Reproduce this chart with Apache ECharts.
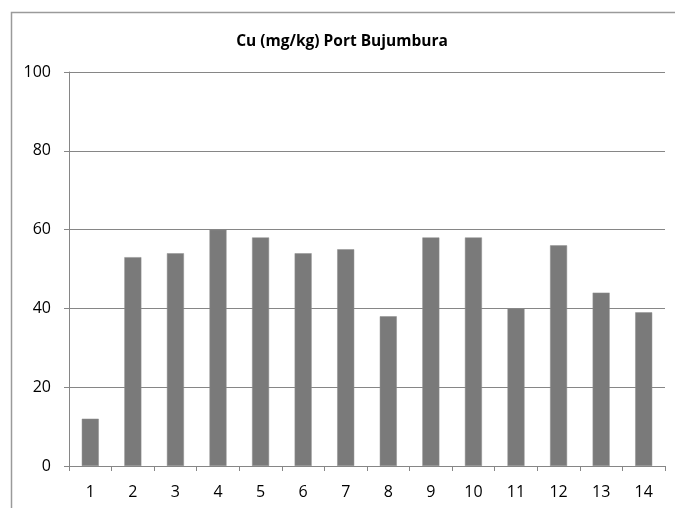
<!DOCTYPE html>
<html>
<head>
<meta charset="utf-8">
<script src="https://cdn.jsdelivr.net/npm/echarts@6/dist/echarts.min.js"></script>
<style>
  html, body { margin: 0; padding: 0; background: #fff; }
  #chart { width: 675px; height: 508px; }
</style>
</head>
<body>
<div id="chart"></div>
<script>
// Copper concentration per sample site, Port of Bujumbura
const titleText = 'Cu (mg/kg) Port Bujumbura';
const sites = ['1', '2', '3', '4', '5', '6', '7', '8', '9', '10', '11', '12', '13', '14'];
const cuValues = [12, 53, 54, 60, 58, 54, 55, 38, 58, 58, 40, 56, 44, 39];
const yTicks = { min: 0, max: 100, interval: 20 };

const labelFont = 'Open Sans, Liberation Sans, sans-serif';
const chart = echarts.init(document.getElementById('chart'), null, { renderer: 'canvas' });

chart.setOption({
  backgroundColor: '#ffffff',
  animation: false,
  graphic: [{
    type: 'rect',
    shape: { x: 11.5, y: 12.5, width: 700, height: 600 },
    style: { fill: 'none', stroke: '#9a9a9a', lineWidth: 1.5 },
    silent: true
  }],
  title: {
    text: titleText,
    left: 337,
    top: 29,
    textAlign: 'center',
    textStyle: { fontFamily: labelFont, fontWeight: 'bold', fontSize: 15.5, color: '#000' }
  },
  grid: { left: 69, right: 10, top: 72, bottom: 42, containLabel: false },
  xAxis: {
    type: 'category',
    data: sites,
    boundaryGap: true,
    axisLine: { lineStyle: { color: '#868686', width: 1 } },
    axisTick: { show: true, alignWithLabel: false, length: 5, lineStyle: { color: '#868686' } },
    axisLabel: { margin: 18, fontFamily: labelFont, fontSize: 16, color: '#000' }
  },
  yAxis: {
    type: 'value',
    min: yTicks.min,
    max: yTicks.max,
    interval: yTicks.interval,
    axisLine: { show: true, lineStyle: { color: '#868686', width: 1 } },
    axisTick: { show: true, length: 5, lineStyle: { color: '#868686' } },
    axisLabel: { margin: 18, fontFamily: labelFont, fontSize: 16, color: '#000' },
    splitLine: { show: true, lineStyle: { color: '#868686', width: 1 } }
  },
  series: [{
    type: 'bar',
    data: cuValues,
    barWidth: 17,
    itemStyle: { color: '#7a7a7a', borderColor: '#8f8f8f', borderWidth: 0.5 }
  }]
});
</script>
</body>
</html>
